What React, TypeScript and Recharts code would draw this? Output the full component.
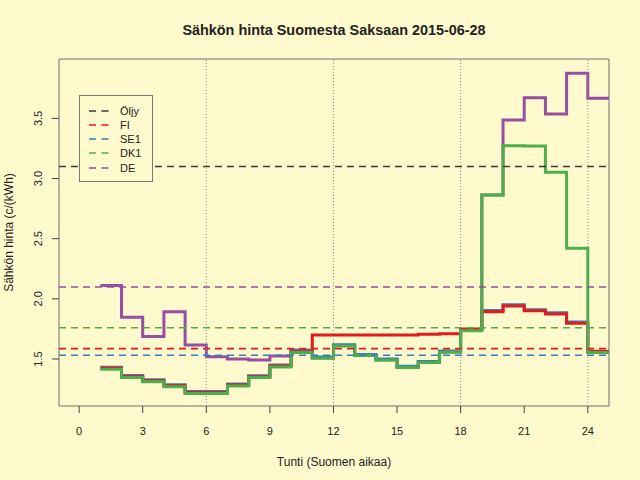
import React from "react"
import { LineChart, Line, XAxis, YAxis, ReferenceLine, ReferenceArea, Legend } from "recharts"

const FONT = '"Liberation Sans", Arial, Helvetica, sans-serif'
const BG = "#fffacd"
const INK = "#222222"

// hour of day (step starts), Finnish time
const HOURS = [1, 2, 3, 4, 5, 6, 7, 8, 9, 10, 11, 12, 13, 14, 15, 16, 17, 18, 19, 20, 21, 22, 23, 24]
const END_HOUR = 25

// c/kWh
const FI = [1.424, 1.355, 1.318, 1.278, 1.222, 1.222, 1.284, 1.353, 1.442, 1.561, 1.70, 1.70, 1.70, 1.70, 1.70, 1.705, 1.71, 1.75, 1.893, 1.94, 1.90, 1.874, 1.797, 1.565]
const SE1 = [1.432, 1.363, 1.327, 1.286, 1.23, 1.23, 1.292, 1.361, 1.45, 1.569, 1.516, 1.618, 1.538, 1.50, 1.44, 1.48, 1.566, 1.745, 1.903, 1.95, 1.91, 1.885, 1.808, 1.56]
const DK1 = [1.415, 1.346, 1.31, 1.269, 1.213, 1.213, 1.276, 1.345, 1.434, 1.553, 1.506, 1.608, 1.528, 1.49, 1.43, 1.47, 1.556, 1.735, 2.863, 3.273, 3.27, 3.052, 2.42, 1.553]
const DE = [2.11, 1.846, 1.686, 1.893, 1.616, 1.519, 1.5, 1.492, 1.525, 1.575, 1.511, 1.613, 1.533, 1.495, 1.435, 1.475, 1.561, 1.745, 2.863, 3.487, 3.672, 3.537, 3.875, 3.667]

// daily averages and oil reference level
const MEAN_NAMES = ["Öljy", "FI", "SE1", "DK1", "DE"]
const MEAN_VALUES = [3.10, 1.586, 1.531, 1.76, 2.098]
const COLORS = ["#3a3a3a", "#e41a1c", "#377eb8", "#4daf4a", "#984ea3"]

const X_TICKS = [0, 3, 6, 9, 12, 15, 18, 21, 24]
const GRID_HOURS = [6, 12, 18, 24]
const Y_TICKS = [1.5, 2.0, 2.5, 3.0, 3.5]
const X_DOMAIN = [-0.95, 25]
const Y_DOMAIN = [1.109, 3.994]

const rows = HOURS.map((h, i) => ({ h, FI: FI[i], SE1: SE1[i], DK1: DK1[i], DE: DE[i] }))
const last = rows[rows.length - 1]
rows.push({ ...last, h: END_HOUR })

// draw order: DE at the bottom, DK1 on top
const SERIES = [
  { key: "DE", color: COLORS[4] },
  { key: "SE1", color: COLORS[2] },
  { key: "FI", color: COLORS[1] },
  { key: "DK1", color: COLORS[3] },
]

function YTick(props: any) {
  const { x, y, payload } = props
  return (
    <text x={x} y={y} transform={`rotate(-90 ${x} ${y})`} textAnchor="middle" fontSize={11} fill={INK} fontFamily={FONT}>
      {Number(payload.value).toFixed(1)}
    </text>
  )
}

function YLabel(props: any) {
  const vb = props.viewBox || { x: 0, y: 59, width: 59, height: 347 }
  const cx = 13
  const cy = vb.y + vb.height / 2
  return (
    <text x={cx} y={cy} transform={`rotate(-90 ${cx} ${cy})`} textAnchor="middle" fontSize={12} fill={INK} fontFamily={FONT}>
      Sähkön hinta (c/(kWh)
    </text>
  )
}

function LegendBox() {
  return (
    <div
      style={{
        width: 74,
        height: 87,
        boxSizing: "border-box",
        border: "1px solid #777",
        background: BG,
        paddingTop: 7.6,
        fontFamily: FONT,
        fontSize: 11,
        color: INK,
      }}
    >
      {MEAN_NAMES.map((name, i) => (
        <div key={name} style={{ display: "flex", alignItems: "center", height: 14.25 }}>
          <svg width={19.5} height={4} style={{ marginLeft: 9, flex: "none" }}>
            <line x1={0} x2={19.5} y1={2} y2={2} stroke={COLORS[i]} strokeWidth={1.7} strokeDasharray="7 5.5" />
          </svg>
          <span style={{ marginLeft: 11.5, lineHeight: "14.25px" }}>{name}</span>
        </div>
      ))}
    </div>
  )
}

export default function App() {
  return (
    <div style={{ position: "absolute", left: 0, top: 0, width: 640, height: 480, background: BG, fontFamily: FONT }}>
      <LineChart width={640} height={480} data={rows} margin={{ top: 59, right: 31, bottom: 0, left: 0 }}>
        <XAxis
          dataKey="h"
          type="number"
          domain={X_DOMAIN}
          ticks={X_TICKS}
          allowDataOverflow
          height={74}
          axisLine={false}
          tickSize={7}
          tickMargin={14}
          tickLine={{ stroke: "#444" }}
          tick={{ fill: INK, fontSize: 11, fontFamily: FONT }}
          label={{ value: "Tunti (Suomen aikaa)", position: "insideBottom", offset: 14, fill: INK, fontSize: 12, fontFamily: FONT }}
        />
        <YAxis
          type="number"
          domain={Y_DOMAIN}
          ticks={Y_TICKS}
          allowDataOverflow
          width={59}
          axisLine={false}
          tickSize={7}
          tickMargin={10}
          tickLine={{ stroke: "#444" }}
          tick={<YTick />}
          label={<YLabel />}
        />
        {SERIES.map((s) => (
          <Line
            key={s.key}
            dataKey={s.key}
            type="stepAfter"
            stroke={s.color}
            strokeWidth={3}
            dot={false}
            activeDot={false}
            isAnimationActive={false}
          />
        ))}
        {MEAN_VALUES.map((v, i) => (
          <ReferenceLine key={MEAN_NAMES[i]} y={v} stroke={COLORS[i]} strokeWidth={1.6} strokeDasharray="7 5" />
        ))}
        {GRID_HOURS.map((h) => (
          <ReferenceLine key={h} x={h} stroke="#8c8c8c" strokeWidth={1} strokeDasharray="1 2" />
        ))}
        <ReferenceArea
          x1={X_DOMAIN[0]}
          x2={X_DOMAIN[1]}
          y1={Y_DOMAIN[0]}
          y2={Y_DOMAIN[1]}
          fill="none"
          stroke="#6e6e6e"
          strokeWidth={1}
          ifOverflow="visible"
        />
        <Legend
          layout="horizontal"
          verticalAlign="middle"
          align="center"
          wrapperStyle={{ left: 79, top: 95, width: 74, height: 87 }}
          content={() => <LegendBox />}
        />
      </LineChart>
      <div
        style={{
          position: "absolute",
          top: 23.3,
          left: 59,
          width: 550,
          textAlign: "center",
          fontSize: 14.4,
          lineHeight: "14.4px",
          fontWeight: "bold",
          color: INK,
        }}
      >
        Sähkön hinta Suomesta Saksaan 2015-06-28
      </div>
    </div>
  )
}
